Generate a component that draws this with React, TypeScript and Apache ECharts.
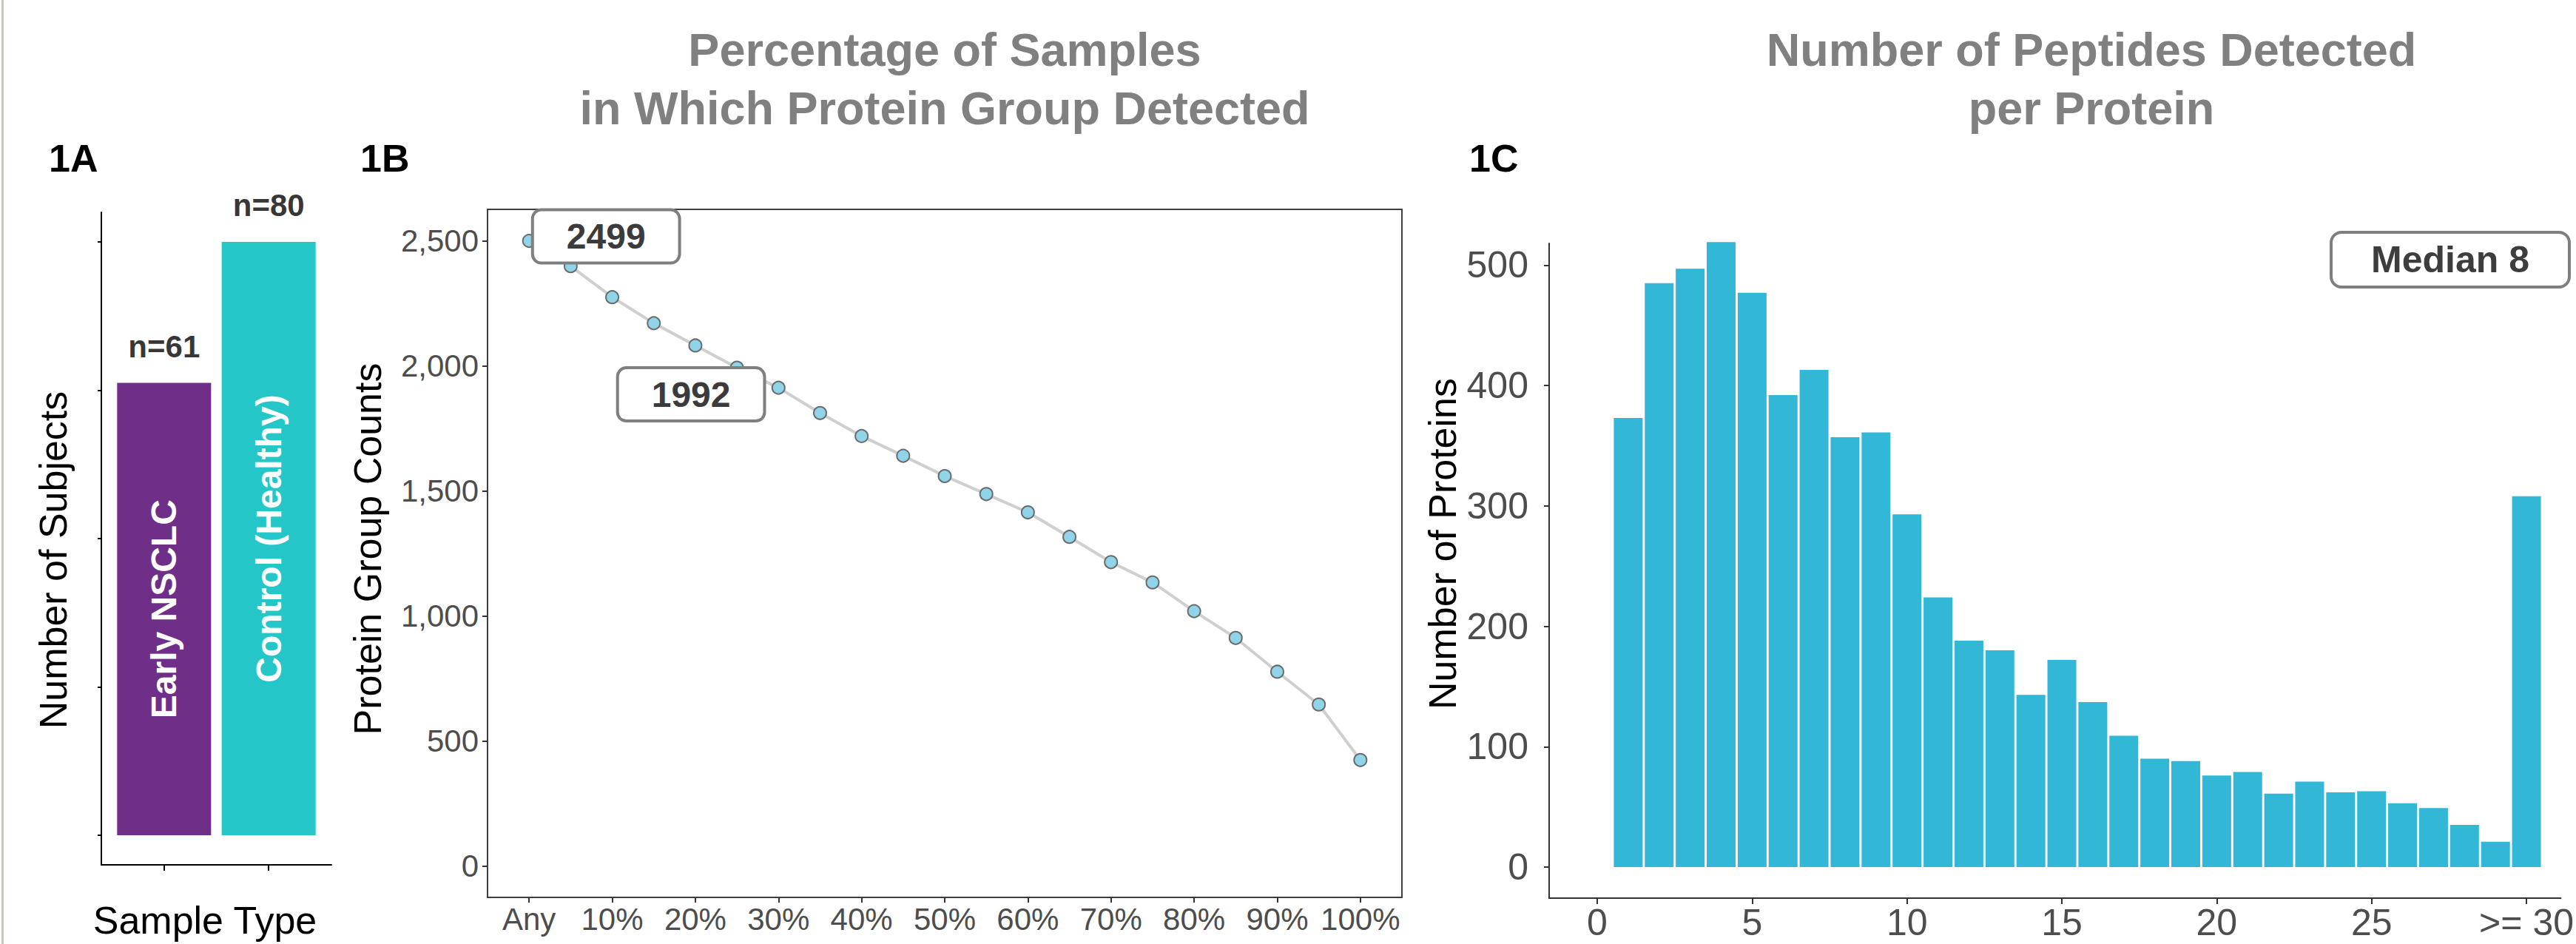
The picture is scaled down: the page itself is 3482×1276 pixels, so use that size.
import React, { useEffect, useRef } from 'react';
import * as echarts from 'echarts';

const FONT = 'Liberation Sans';

// Panel 1A
const sampleTypes = ['Early NSCLC', 'Control (Healthy)'];
const sampleTypePositions = [1, 2];
const subjectCounts = [61, 80];
const subjectTicks = [0, 20, 40, 60, 80];

// Panel 1B
const detectionPercents = [0, 5, 10, 15, 20, 25, 30, 35, 40, 45, 50, 55, 60, 65, 70, 75, 80, 85, 90, 95, 100];
const proteinGroupCounts = [2499, 2398, 2274, 2170, 2081, 1992, 1912, 1811, 1719, 1640, 1559, 1487, 1414, 1316, 1215, 1134, 1019, 912, 777, 646, 424];
const annotatedPercents = [0, 25];
const percentTicks = [0, 10, 20, 30, 40, 50, 60, 70, 80, 90, 100];
const countTicks = [0, 500, 1000, 1500, 2000, 2500];

// Panel 1C
const peptideBins = [1, 2, 3, 4, 5, 6, 7, 8, 9, 10, 11, 12, 13, 14, 15, 16, 17, 18, 19, 20, 21, 22, 23, 24, 25, 26, 27, 28, 29, 30];
const proteinsPerBin = [373, 485, 497, 519, 477, 392, 413, 357, 361, 293, 224, 188, 180, 143, 172, 137, 109, 90, 88, 76, 79, 61, 71, 62, 63, 53, 49, 35, 21, 308];
const peptideTicks = [0, 5, 10, 15, 20, 25, 30];
const proteinTicks = [0, 100, 200, 300, 400, 500];
const medianPeptides = 8;

const sampleColors = ['#6f2f88', '#24c6c8'];
const annotationOffsets: Record<number, number[]> = { 0: [104, -6], 25: [-62, 36] };

export default function App() {
  const ref = useRef<HTMLDivElement>(null);

  useEffect(() => {
    const chart = echarts.init(ref.current!, null, { renderer: 'svg' });

    const boxLabel = (offset: number[]) => ({
      show: true,
      position: 'inside',
      offset,
      formatter: (p: any) => String(p.value[1]),
      backgroundColor: '#ffffff',
      borderColor: '#7f7f7f',
      borderWidth: 4,
      borderRadius: 10,
      padding: [10, 44, 10, 44],
      fontSize: 48,
      lineHeight: 48,
      fontWeight: 'bold',
      fontFamily: FONT,
      color: '#3b3b3b',
    });

    const option: any = {
      animation: false,
      backgroundColor: '#ffffff',
      grid: [
        { left: 137, top: 287, width: 311, height: 882 },
        { left: 659, top: 283, width: 1236, height: 930, show: true, borderColor: '#3f3f3f', borderWidth: 2, backgroundColor: 'transparent' },
        { left: 2094, top: 329, width: 1388, height: 885 },
      ],
      xAxis: [
        {
          gridIndex: 0, type: 'value', min: 0.4, max: 2.6,
          axisLine: { show: true, onZero: false, lineStyle: { color: '#000', width: 2 } },
          axisTick: { show: true, customValues: sampleTypePositions, length: 8, lineStyle: { color: '#000', width: 2 } },
          axisLabel: { show: false },
          splitLine: { show: false },
        },
        {
          gridIndex: 1, type: 'value', min: -5, max: 105,
          axisLine: { show: true, onZero: false, lineStyle: { color: '#3f3f3f', width: 2 } },
          axisTick: { show: true, customValues: percentTicks, length: 7, lineStyle: { color: '#333', width: 2 } },
          axisLabel: {
            show: true, customValues: percentTicks, margin: 8,
            formatter: (v: number) => (v === 0 ? 'Any' : v + '%'),
            fontSize: 42, color: '#4d4d4d', fontFamily: FONT,
          },
          splitLine: { show: false },
        },
        {
          gridIndex: 2, type: 'value', min: -1.553, max: 31.106,
          axisLine: { show: true, onZero: false, lineStyle: { color: '#333', width: 2 } },
          axisTick: { show: true, customValues: peptideTicks, length: 8, lineStyle: { color: '#333', width: 2 } },
          axisLabel: {
            show: true, customValues: peptideTicks, margin: 8,
            formatter: (v: number) => (v === 30 ? '>= 30' : String(v)),
            fontSize: 50, color: '#4d4d4d', fontFamily: FONT,
          },
          splitLine: { show: false },
        },
      ],
      yAxis: [
        {
          gridIndex: 0, type: 'value', min: -4, max: 84,
          axisLine: { show: true, onZero: false, lineStyle: { color: '#000', width: 2 } },
          axisTick: { show: true, customValues: subjectTicks, length: 5, lineStyle: { color: '#000', width: 2 } },
          axisLabel: { show: false },
          splitLine: { show: false },
        },
        {
          gridIndex: 1, type: 'value', min: -125, max: 2625,
          axisLine: { show: true, onZero: false, lineStyle: { color: '#3f3f3f', width: 2 } },
          axisTick: { show: true, customValues: countTicks, length: 7, lineStyle: { color: '#333', width: 2 } },
          axisLabel: {
            show: true, customValues: countTicks, margin: 12,
            formatter: (v: number) => v.toLocaleString('en-US'),
            fontSize: 42, color: '#4d4d4d', fontFamily: FONT,
          },
          splitLine: { show: false },
        },
        {
          gridIndex: 2, type: 'value', min: -25.8, max: 518,
          axisLine: { show: true, onZero: false, lineStyle: { color: '#333', width: 2 } },
          axisTick: { show: true, customValues: proteinTicks, length: 7, lineStyle: { color: '#333', width: 2 } },
          axisLabel: {
            show: true, customValues: proteinTicks, margin: 28,
            fontSize: 50, color: '#4d4d4d', fontFamily: FONT,
          },
          splitLine: { show: false },
        },
      ],
      series: [
        {
          type: 'bar', xAxisIndex: 0, yAxisIndex: 0, barWidth: 127,
          data: subjectCounts.map((v, i) => ({
            name: sampleTypes[i],
            value: [sampleTypePositions[i], v],
            itemStyle: { color: sampleColors[i] },
          })),
          label: {
            show: true, position: 'inside', rotate: 90,
            formatter: (p: any) => p.name,
            color: '#ffffff', fontSize: 48, fontWeight: 'bold', fontFamily: FONT,
          },
        },
        {
          type: 'scatter', xAxisIndex: 0, yAxisIndex: 0, symbolSize: 1, silent: true,
          itemStyle: { color: 'rgba(0,0,0,0)' },
          data: subjectCounts.map((v, i) => [sampleTypePositions[i], v]),
          label: {
            show: true, position: 'top', distance: 28,
            formatter: (p: any) => 'n=' + p.value[1],
            color: '#000', fontSize: 42, fontWeight: 'bold', fontFamily: FONT,
          },
        },
        {
          type: 'line', xAxisIndex: 1, yAxisIndex: 1,
          symbol: 'circle', symbolSize: 17, showAllSymbol: true,
          itemStyle: { color: '#8fd4e8', borderColor: '#6b6b6b', borderWidth: 2 },
          lineStyle: { color: '#cfcfcf', width: 4 },
          label: { show: false },
          data: detectionPercents.map((p, i) => {
            const item: any = { value: [p, proteinGroupCounts[i]] };
            if (annotatedPercents.includes(p)) item.label = boxLabel(annotationOffsets[p]);
            return item;
          }),
        },
        {
          type: 'bar', xAxisIndex: 2, yAxisIndex: 2, barWidth: 39, clip: false,
          itemStyle: { color: '#33b7d7' },
          data: peptideBins.map((b, i) => [b, proteinsPerBin[i]]),
        },
      ],
      graphic: [
        { type: 'rect', shape: { x: 2, y: 0, width: 3, height: 1276 }, style: { fill: '#cbc7c3' }, silent: true },
        {
          type: 'text', x: 1277, y: 106,
          style: {
            text: 'Percentage of Samples\nin Which Protein Group Detected',
            align: 'center', verticalAlign: 'middle', lineHeight: 79,
            fontSize: 63, fontWeight: 'bold', fontFamily: FONT, fill: '#808080',
          },
        },
        {
          type: 'text', x: 2827, y: 106,
          style: {
            text: 'Number of Peptides Detected\nper Protein',
            align: 'center', verticalAlign: 'middle', lineHeight: 79,
            fontSize: 63, fontWeight: 'bold', fontFamily: FONT, fill: '#808080',
          },
        },
        { type: 'text', x: 66, y: 214, style: { text: '1A', align: 'left', verticalAlign: 'middle', fontSize: 52, fontWeight: 'bold', fontFamily: FONT, fill: '#000' } },
        { type: 'text', x: 487, y: 214, style: { text: '1B', align: 'left', verticalAlign: 'middle', fontSize: 52, fontWeight: 'bold', fontFamily: FONT, fill: '#000' } },
        { type: 'text', x: 1986, y: 214, style: { text: '1C', align: 'left', verticalAlign: 'middle', fontSize: 52, fontWeight: 'bold', fontFamily: FONT, fill: '#000' } },
        { type: 'text', x: 72, y: 757, rotation: Math.PI / 2, style: { text: 'Number of Subjects', align: 'center', verticalAlign: 'middle', fontSize: 52, fontFamily: FONT, fill: '#000' } },
        { type: 'text', x: 277, y: 1244, style: { text: 'Sample Type', align: 'center', verticalAlign: 'middle', fontSize: 52, fontFamily: FONT, fill: '#000' } },
        { type: 'text', x: 497, y: 742, rotation: Math.PI / 2, style: { text: 'Protein Group Counts', align: 'center', verticalAlign: 'middle', fontSize: 52, fontFamily: FONT, fill: '#000' } },
        { type: 'text', x: 1950, y: 735, rotation: Math.PI / 2, style: { text: 'Number of Proteins', align: 'center', verticalAlign: 'middle', fontSize: 52, fontFamily: FONT, fill: '#000' } },
        {
          type: 'text', x: 3312, y: 351,
          style: {
            text: 'Median ' + medianPeptides, align: 'center', verticalAlign: 'middle',
            fontSize: 50, fontWeight: 'bold', fontFamily: FONT, fill: '#3d3d3d',
            backgroundColor: '#ffffff', borderColor: '#7f7f7f', borderWidth: 4, borderRadius: 12,
            padding: [10, 52, 10, 52],
          },
        },
      ],
    };

    chart.setOption(option);
    return () => chart.dispose();
  }, []);

  return (
    <div
      ref={ref}
      style={{ position: 'absolute', left: 0, top: 0, width: 3482, height: 1276, background: '#ffffff' }}
    />
  );
}
